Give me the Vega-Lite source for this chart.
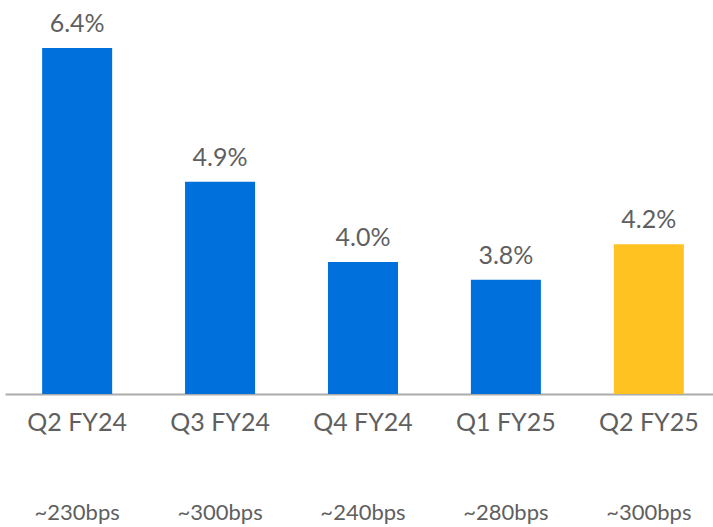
{
  "$schema": "https://vega.github.io/schema/vega-lite/v6.json",
  "width": 708,
  "height": 394,
  "padding": {"left": 5, "top": 0, "right": 0, "bottom": 133},
  "autosize": {"type": "none"},
  "background": "white",
  "config": {
    "view": {"stroke": null},
    "font": "Lato",
    "text": {"font": "Lato"}
  },
  "data": {
    "values": [
      {"quarter": "Q2 FY24", "value": 6.4, "label": "6.4%", "bps": "~230bps", "current": "no"},
      {"quarter": "Q3 FY24", "value": 4.9, "label": "4.9%", "bps": "~300bps", "current": "no"},
      {"quarter": "Q4 FY24", "value": 4.0, "label": "4.0%", "bps": "~240bps", "current": "no"},
      {"quarter": "Q1 FY25", "value": 3.8, "label": "3.8%", "bps": "~280bps", "current": "no"},
      {"quarter": "Q2 FY25", "value": 4.2, "label": "4.2%", "bps": "~300bps", "current": "yes"}
    ]
  },
  "encoding": {
    "x": {
      "field": "quarter",
      "type": "nominal",
      "sort": null,
      "scale": {"paddingInner": 0.51, "paddingOuter": 0.232, "align": 0.56},
      "axis": {
        "title": null,
        "labelAngle": 0,
        "labelFontSize": 25,
        "labelFontWeight": 400,
        "labelColor": "#5f5f5f",
        "labelFont": "Lato",
        "labelPadding": 16,
        "ticks": false,
        "tickSize": 0,
        "domainColor": "#ababab",
        "domainWidth": 2
      }
    }
  },
  "layer": [
    {
      "mark": {"type": "bar"},
      "encoding": {
        "y": {
          "field": "value",
          "type": "quantitative",
          "scale": {"domain": [2.52, 6.937], "zero": false, "nice": false},
          "axis": null
        },
        "y2": {"datum": 2.52},
        "color": {
          "field": "current",
          "type": "nominal",
          "scale": {"domain": ["no", "yes"], "range": ["#0071DC", "#FFC220"]},
          "legend": null
        }
      }
    },
    {
      "mark": {"type": "text", "baseline": "alphabetic", "dy": -16, "fontSize": 25, "fontWeight": 400, "color": "#5f5f5f"},
      "encoding": {
        "y": {"field": "value", "type": "quantitative"},
        "text": {"field": "label"}
      }
    },
    {
      "mark": {"type": "text", "baseline": "alphabetic", "fontSize": 22, "fontWeight": 400, "color": "#5f5f5f"},
      "encoding": {
        "y": {"datum": 1.107},
        "text": {"field": "bps"}
      }
    }
  ]
}
